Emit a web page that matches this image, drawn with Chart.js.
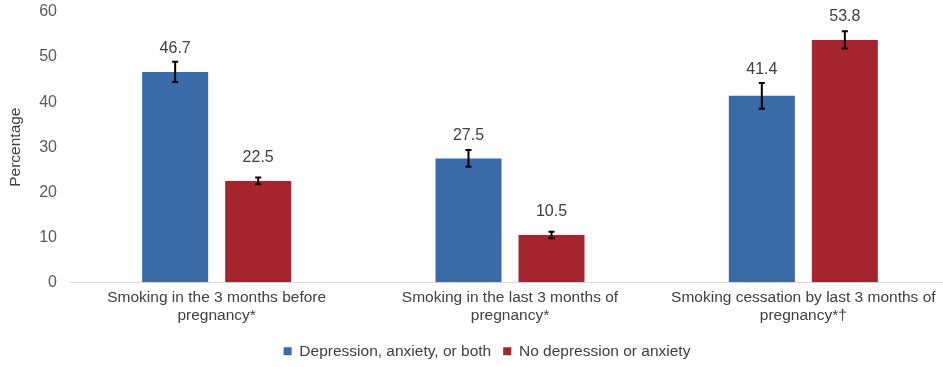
<!DOCTYPE html>
<html>
<head>
<meta charset="utf-8">
<script src="https://cdn.jsdelivr.net/npm/chart.js@4.4.1/dist/chart.umd.min.js"></script>
<style>
  html, body { margin: 0; padding: 0; background: #fff; overflow: hidden; }
  #wrap { width: 952px; height: 367px; }
</style>
</head>
<body>
<div id="wrap"><canvas id="chart"></canvas></div>
<script>
const categories = [
    ['Smoking in the 3 months before', 'pregnancy*'],
    ['Smoking in the last 3 months of', 'pregnancy*'],
    ['Smoking cessation by last 3 months of', 'pregnancy*\u2020']
];
const depressionValues = [46.7, 27.5, 41.4];
const depressionErrors = [2.25, 1.85, 2.85];
const noDepressionValues = [22.5, 10.5, 53.8];
const noDepressionErrors = [0.75, 0.7, 1.9];
const yTicks = [0, 10, 20, 30, 40, 50, 60];

const FONT = "'Liberation Sans', Arial, sans-serif";

// error bars + value labels on top of bars
const barExtras = {
    id: 'barExtras',
    afterDatasetsDraw(chart) {
        const ctx = chart.ctx;
        const y = chart.scales.y;
        ctx.save();
        chart.data.datasets.forEach((ds, i) => {
            const meta = chart.getDatasetMeta(i);
            meta.data.forEach((bar, j) => {
                const v = ds.data[j];
                const e = ds.errors[j];
                const top = y.getPixelForValue(v + e);
                const bottom = y.getPixelForValue(v - e);
                ctx.strokeStyle = '#000';
                ctx.lineWidth = 2;
                ctx.beginPath();
                ctx.moveTo(bar.x, top);
                ctx.lineTo(bar.x, bottom);
                ctx.moveTo(bar.x - 3, top);
                ctx.lineTo(bar.x + 3, top);
                ctx.moveTo(bar.x - 3, bottom);
                ctx.lineTo(bar.x + 3, bottom);
                ctx.stroke();

                const labelY = Math.min(bar.y - 23, top - 13);
                ctx.fillStyle = '#404040';
                ctx.font = '16px ' + FONT;
                ctx.textAlign = 'center';
                ctx.textBaseline = 'middle';
                ctx.fillText(v.toFixed(1), bar.x, labelY);
            });
        });
        ctx.restore();
    }
};

new Chart(document.querySelector('#chart'), {
    type: 'bar',
    data: {
        labels: categories,
        datasets: [
            {
                label: 'Depression, anxiety, or both',
                data: depressionValues,
                errors: depressionErrors,
                backgroundColor: '#3A6AA7',
                borderWidth: 0,
                categoryPercentage: 0.566,
                barPercentage: 0.795,
            },
            {
                label: 'No depression or anxiety',
                data: noDepressionValues,
                errors: noDepressionErrors,
                backgroundColor: '#A5252F',
                borderWidth: 0,
                categoryPercentage: 0.566,
                barPercentage: 0.795,
            }
        ]
    },
    options: {
        responsive: true,
        maintainAspectRatio: false,
        animation: false,
        layout: { padding: { top: 12, right: 2, bottom: -2, left: 24 } },
        scales: {
            x: {
                grid: { display: false, drawTicks: false },
                border: { display: true, color: '#D9D9D9', width: 1 },
                ticks: {
                    color: '#404040',
                    padding: 6,
                    maxRotation: 0,
                    autoSkip: false,
                    font: { family: FONT, size: 15.5, lineHeight: 1.2 }
                }
            },
            y: {
                min: 0,
                max: 60,
                afterFit(scale) {
                    scale.width = 46;
                    scale.paddingTop = 0;
                    scale.paddingBottom = 0;
                },
                afterBuildTicks(scale) { scale.ticks = yTicks.map(v => ({ value: v })); },
                grid: { display: false, drawTicks: false },
                border: { display: false },
                ticks: {
                    color: '#595959',
                    padding: 13,
                    font: { family: FONT, size: 16 }
                },
                title: {
                    display: true,
                    text: 'Percentage',
                    color: '#404040',
                    padding: { top: -18, bottom: 0 },
                    font: { family: FONT, size: 15.5 }
                }
            }
        },
        plugins: {
            legend: {
                position: 'bottom',
                labels: {
                    boxWidth: 8,
                    boxHeight: 8,
                    padding: 12,
                    color: '#404040',
                    font: { family: FONT, size: 15.5 }
                }
            },
            tooltip: { enabled: false }
        }
    },
    plugins: [barExtras],
});
</script>
</body>
</html>
